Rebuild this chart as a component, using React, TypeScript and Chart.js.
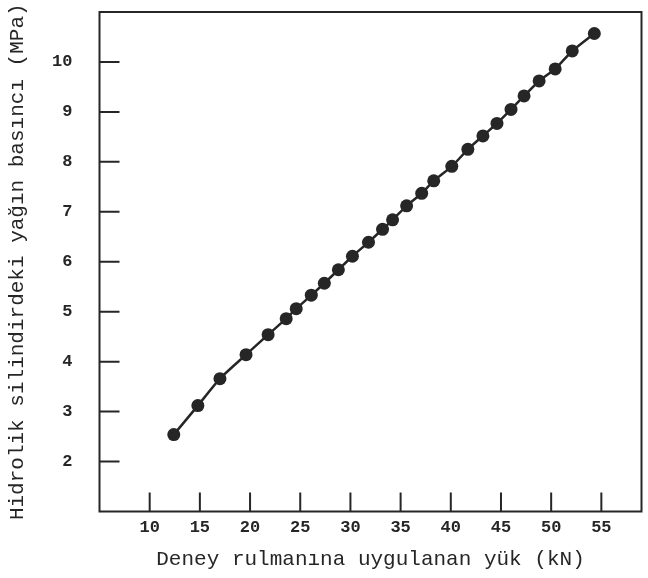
import React, { useEffect, useRef } from 'react';
import { Chart, registerables } from 'chart.js';

Chart.register(...registerables);

const loadKN = [12.4, 14.8, 17.0, 19.6, 21.8, 23.6, 24.6, 26.1, 27.4, 28.8, 30.2, 31.8, 33.2, 34.2, 35.6, 37.1, 38.3, 40.1, 41.7, 43.2, 44.6, 46.0, 47.3, 48.8, 50.4, 52.1, 54.3];
const pressureMPa = [2.54, 3.12, 3.66, 4.14, 4.54, 4.86, 5.06, 5.33, 5.57, 5.84, 6.11, 6.39, 6.65, 6.84, 7.12, 7.37, 7.62, 7.91, 8.25, 8.52, 8.77, 9.05, 9.32, 9.62, 9.86, 10.22, 10.57];
const xTickValues = [10, 15, 20, 25, 30, 35, 40, 45, 50, 55];
const yTickValues = [2, 3, 4, 5, 6, 7, 8, 9, 10];
const xTitle = 'Deney rulmanına uygulanan yük (kN)';
const yTitle = 'Hidrolik silindirdeki yağın basıncı (MPa)';

const INK = '#262626';
const FONT = '"Liberation Mono", "Courier New", monospace';

const framePlugin = {
  id: 'frameTicks',
  beforeDatasetsDraw(chart: any) {
    const { ctx, chartArea, scales } = chart;
    const { left, right, top, bottom } = chartArea;
    ctx.save();
    ctx.strokeStyle = INK;
    ctx.lineWidth = 2;
    ctx.strokeRect(left, top, right - left, bottom - top);
    ctx.beginPath();
    for (const v of xTickValues) {
      const px = scales.x.getPixelForValue(v);
      ctx.moveTo(px, bottom);
      ctx.lineTo(px, bottom - 19);
    }
    for (const v of yTickValues) {
      const py = scales.y.getPixelForValue(v);
      ctx.moveTo(left, py);
      ctx.lineTo(left + 20, py);
    }
    ctx.stroke();
    ctx.restore();
  },
};

export default function App() {
  const ref = useRef<HTMLCanvasElement | null>(null);
  useEffect(() => {
    if (!ref.current) return;
    const chart = new Chart(ref.current, {
      type: 'scatter',
      data: {
        datasets: [
          {
            data: loadKN.map((x, i) => ({ x, y: pressureMPa[i] })),
            showLine: true,
            borderColor: INK,
            borderWidth: 2.5,
            backgroundColor: INK,
            pointBackgroundColor: INK,
            pointBorderColor: INK,
            pointRadius: 6.5,
            pointBorderWidth: 0,
            tension: 0.2,
          },
        ],
      },
      options: {
        responsive: false,
        animation: false,
        layout: { padding: { left: 0, right: 5, top: 12, bottom: 0 } },
        plugins: { legend: { display: false }, tooltip: { enabled: false } },
        scales: {
          x: {
            type: 'linear',
            min: 5,
            max: 59,
            afterBuildTicks: (s: any) => {
              s.ticks = xTickValues.map((value) => ({ value }));
            },
            afterFit: (s: any) => {
              s.height = 66.5;
              s.paddingLeft = 0;
              s.paddingRight = 0;
            },
            grid: { display: false, drawTicks: false },
            border: { display: false },
            ticks: {
              color: INK,
              padding: 6,
              maxRotation: 0,
              autoSkip: false,
              font: { family: FONT, size: 17, weight: 'bold' },
              callback: (v: any) => String(v),
            },
            title: {
              display: true,
              text: xTitle,
              color: INK,
              padding: { top: 0, bottom: 6 },
              font: { family: FONT, size: 21 },
            },
          },
          y: {
            type: 'linear',
            min: 1,
            max: 11,
            afterBuildTicks: (s: any) => {
              s.ticks = yTickValues.map((value) => ({ value }));
            },
            afterFit: (s: any) => {
              s.width = 99.5;
              s.paddingTop = 0;
              s.paddingBottom = 0;
            },
            grid: { display: false, drawTicks: false },
            border: { display: false },
            ticks: {
              color: INK,
              padding: 27,
              autoSkip: false,
              font: { family: FONT, size: 17, weight: 'bold' },
              callback: (v: any) => String(v),
            },
            title: {
              display: true,
              text: yTitle,
              color: INK,
              padding: { top: 5, bottom: 0 },
              font: { family: FONT, size: 21 },
            },
          },
        },
      },
      plugins: [framePlugin],
    } as any);
    return () => chart.destroy();
  }, []);
  return (
    <div style={{ position: 'fixed', left: 0, top: 0, width: 648, height: 578, background: '#fff' }}>
      <canvas ref={ref} width={648} height={578} style={{ display: 'block' }} />
    </div>
  );
}
